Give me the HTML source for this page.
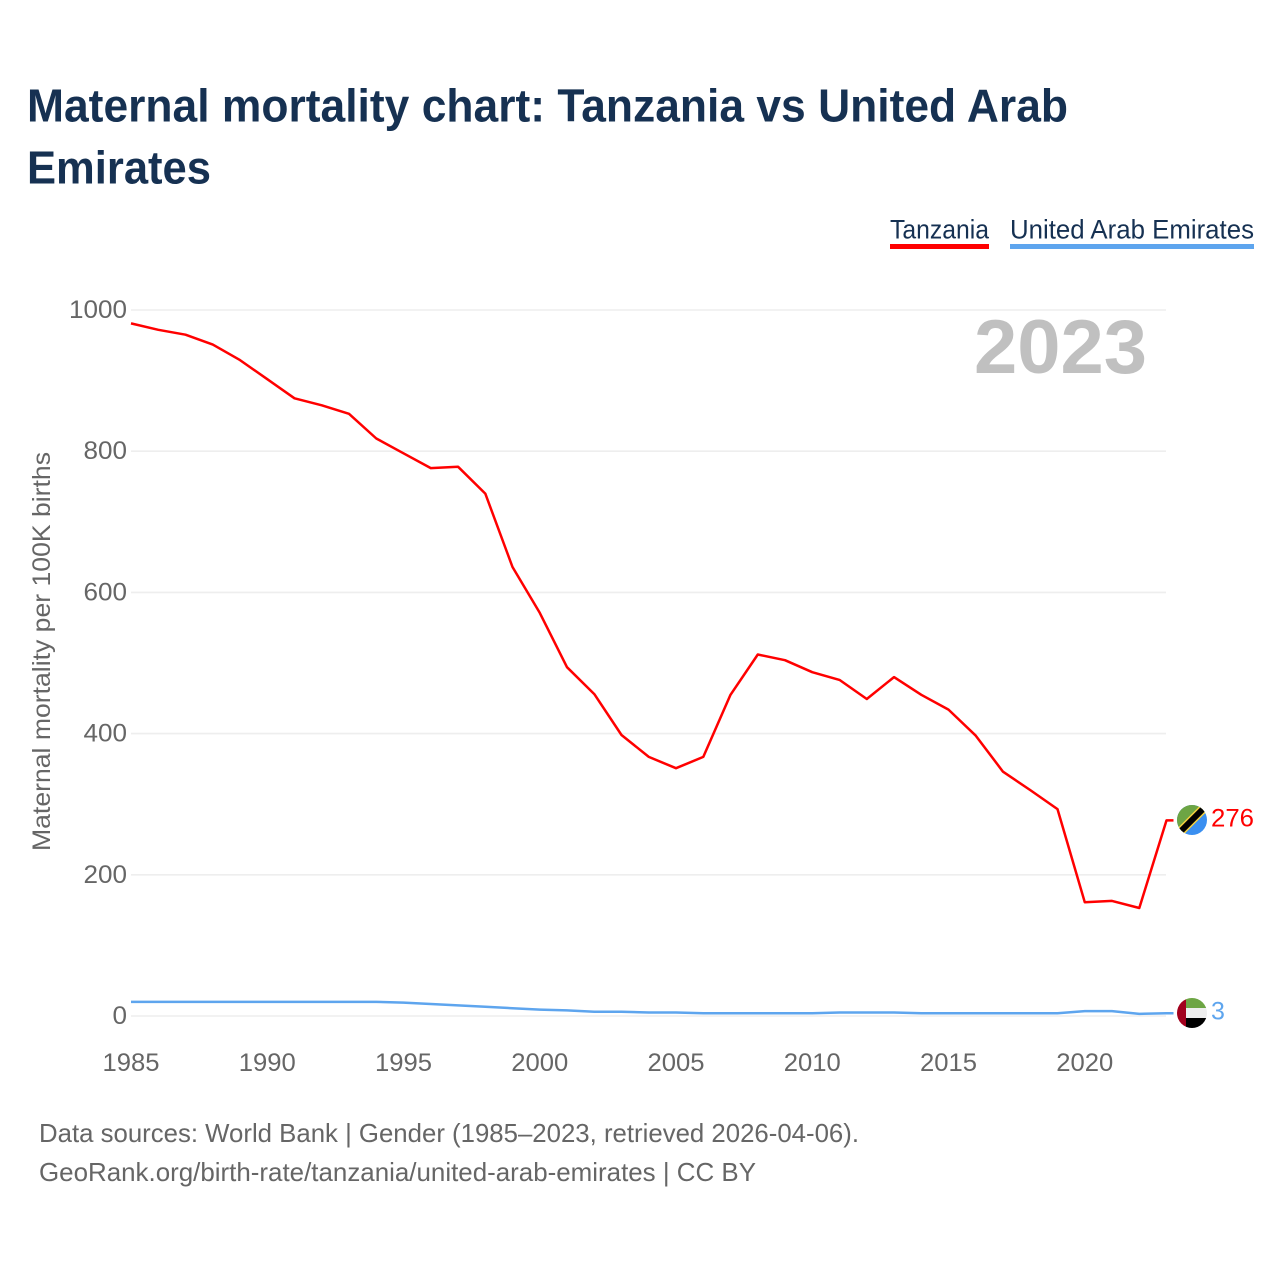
<!DOCTYPE html>
<html>
<head>
<meta charset="utf-8">
<style>
html,body{margin:0;padding:0;background:#fff;width:1280px;height:1280px;overflow:hidden}
svg{display:block}
text{font-family:"Liberation Sans",sans-serif}
</style>
</head>
<body>
<svg id="chart" width="1280" height="1280" viewBox="0 0 1280 1280" xmlns="http://www.w3.org/2000/svg">
<defs>
<clipPath id="tz-clip"><circle cx="1192" cy="820" r="15"/></clipPath>
<clipPath id="ae-clip"><circle cx="1192" cy="1013" r="15"/></clipPath>
</defs>
<text x="27" y="121.5" font-size="46" font-weight="700" fill="#163152" textLength="1041" lengthAdjust="spacingAndGlyphs">Maternal mortality chart: Tanzania vs United Arab</text>
<text x="27" y="183.5" font-size="46" font-weight="700" fill="#163152" textLength="184" lengthAdjust="spacingAndGlyphs">Emirates</text>
<g>
<text x="890" y="238.5" font-size="27" fill="#163152" textLength="99" lengthAdjust="spacingAndGlyphs">Tanzania</text>
<rect x="890" y="244" width="99" height="5" fill="#ff0000"/>
</g>
<g>
<text x="1010" y="238.5" font-size="27" fill="#163152" textLength="244" lengthAdjust="spacingAndGlyphs">United Arab Emirates</text>
<rect x="1010" y="244" width="244" height="5" fill="#5ea5ee"/>
</g>
<g id="grid"></g>
<text x="974" y="373" font-size="76" font-weight="700" fill="#c0c0c0" textLength="173" lengthAdjust="spacingAndGlyphs">2023</text>
<g id="yticks"></g>
<g id="xticks"></g>
<text transform="translate(50,851) rotate(-90)" x="0" y="0" font-size="25" fill="#666666" textLength="399" lengthAdjust="spacingAndGlyphs">Maternal mortality per 100K births</text>
<g id="series"></g>
<g clip-path="url(#tz-clip)">
<rect x="1175" y="803" width="34" height="34" fill="#3a8ff0"/>
<polygon points="1175,803 1209,803 1175,837" fill="#6da544"/>
<line x1="1178" y1="834" x2="1206" y2="806" stroke="#f4d03f" stroke-width="9"/>
<line x1="1178" y1="834" x2="1206" y2="806" stroke="#000000" stroke-width="6"/>
</g>
<g clip-path="url(#ae-clip)">
<rect x="1177" y="998" width="9" height="30" fill="#a2001d"/>
<rect x="1186" y="998" width="21" height="10" fill="#6da544"/>
<rect x="1186" y="1008" width="21" height="10" fill="#eeeeee"/>
<rect x="1186" y="1018" width="21" height="10" fill="#000000"/>
</g>
<text id="end-tz" x="1211" y="826.5" font-size="25" fill="#ff0000" textLength="43" lengthAdjust="spacingAndGlyphs"></text>
<text id="end-ae" x="1211" y="1019.5" font-size="25" fill="#5ea5ee"></text>
<text x="39" y="1142" font-size="26" fill="#666666" textLength="820" lengthAdjust="spacingAndGlyphs">Data sources: World Bank | Gender (1985–2023, retrieved 2026-04-06).</text>
<text x="39" y="1181" font-size="26" fill="#666666" textLength="717" lengthAdjust="spacingAndGlyphs">GeoRank.org/birth-rate/tanzania/united-arab-emirates | CC BY</text>
</svg>
<script>
const years = [1985,1986,1987,1988,1989,1990,1991,1992,1993,1994,1995,1996,1997,1998,1999,2000,2001,2002,2003,2004,2005,2006,2007,2008,2009,2010,2011,2012,2013,2014,2015,2016,2017,2018,2019,2020,2021,2022,2023];
const tanzania = [981,972,965,951,929,902,875,865,853,818,797,776,778,740,636,571,494,456,398,367,351,367,455,512,504,487,476,449,480,455,434,397,346,320,293,161,163,153,277];
const uae = [20,20,20,20,20,20,20,20,20,20,19,17,15,13,11,9,8,6,6,5,5,4,4,4,4,4,5,5,5,4,4,4,4,4,4,7,7,3,4];
const yTickValues = [0,200,400,600,800,1000];
const xTickValues = [1985,1990,1995,2000,2005,2010,2015,2020];
const endLabelTanzania = "276";
const endLabelUae = "3";

const NS = "http://www.w3.org/2000/svg";
function xScale(year){ return 131 + (year - 1985) * (1166.5 - 131) / (2023 - 1985); }
function yScale(value){ return 1016 - value * 0.706; }
function pathFor(values){
  return values.map(function(v,i){ return (i ? "L" : "M") + xScale(years[i]).toFixed(1) + " " + yScale(v).toFixed(1); }).join(" ");
}

const grid = document.getElementById("grid");
const yticks = document.getElementById("yticks");
yTickValues.forEach(function(t){
  const l = document.createElementNS(NS,"line");
  
  
  l.setAttribute("x1", 131);
  l.setAttribute("x2", 1166);
  l.setAttribute("y1", yScale(t));
  l.setAttribute("y2", yScale(t));
  l.setAttribute("stroke", "#eeeeee");
  l.setAttribute("stroke-width", 1.6);
  grid.appendChild(l);
  const s = document.createElementNS(NS,"text");
  
  
  s.setAttribute("x", 127);
  s.setAttribute("y", yScale(t) + 8);
  s.setAttribute("text-anchor", "end");
  s.setAttribute("font-size", 25);
  s.setAttribute("fill", "#666666");
  s.setAttribute("textLength", String(t).length * 14.5);
  s.setAttribute("lengthAdjust", "spacingAndGlyphs");
  s.textContent = t;
  yticks.appendChild(s);
});

const xticks = document.getElementById("xticks");
xTickValues.forEach(function(t){
  const s = document.createElementNS(NS,"text");
  
  
  s.setAttribute("x", xScale(t));
  s.setAttribute("y", 1071);
  s.setAttribute("text-anchor", "middle");
  s.setAttribute("font-size", 25);
  s.setAttribute("fill", "#666666");
  s.setAttribute("textLength", 57);
  s.setAttribute("lengthAdjust", "spacingAndGlyphs");
  s.textContent = t;
  xticks.appendChild(s);
});

const series = document.getElementById("series");
function drawSeries(values, color, name){
  const p = document.createElementNS(NS,"path");
  
  
  p.setAttribute("d", pathFor(values) + " h7");
  p.setAttribute("fill", "none");
  p.setAttribute("stroke", color);
  p.setAttribute("stroke-width", 2.5);
  p.setAttribute("stroke-linejoin", "round");
  series.appendChild(p);
}
drawSeries(uae, "#5ea5ee", "line-uae");
drawSeries(tanzania, "#ff0000", "line-tanzania");

document.getElementById("end-tz").textContent = endLabelTanzania;
document.getElementById("end-ae").textContent = endLabelUae;
</script>
</body>
</html>
